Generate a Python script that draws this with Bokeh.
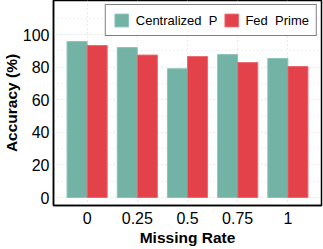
from bokeh.plotting import figure
from bokeh.models import FactorRange, Range1d, Legend, LegendItem, ColumnDataSource, FixedTicker, Title
from bokeh.transform import dodge
from bokeh.embed import file_html
from bokeh.resources import INLINE

rates = ["0", "0.25", "0.5", "0.75", "1"]
centralized = [95.7, 92.0, 79.0, 87.7, 85.3]
fed_prime = [93.3, 87.4, 86.5, 82.8, 80.4]
y_ticks = [0, 20, 40, 60, 80, 100]
y_minor = [10, 30, 50, 70, 90, 110]

GREEN = "#72b3a6"
RED = "#e4424a"
FONT = "Liberation Sans"

src = ColumnDataSource(dict(rate=rates, c=centralized, f=fed_prime))

p = figure(width=323, height=249, output_backend="svg", toolbar_location=None,
           x_range=FactorRange(factors=rates, range_padding=0.17, range_padding_units="absolute"),
           y_range=Range1d(-4.9, 120.9),
           min_border_left=48, min_border_right=2, min_border_top=0, min_border_bottom=44)

r1 = p.vbar(x=dodge("rate", -0.2, range=p.x_range), top="c", width=0.4, source=src,
            fill_color=GREEN, line_color="#8cc4b8", line_width=1)
r2 = p.vbar(x=dodge("rate", 0.2, range=p.x_range), top="f", width=0.4, source=src,
            fill_color=RED, line_color="#ea6a70", line_width=1)

p.outline_line_color = "black"
p.outline_line_width = 1.5
p.background_fill_color = "white"
p.border_fill_color = "white"

p.yaxis.ticker = FixedTicker(ticks=y_ticks, minor_ticks=y_minor)
for ax in (p.xaxis[0], p.yaxis[0]):
    ax.major_tick_line_color = None
    ax.minor_tick_line_color = None
    ax.major_tick_out = 0
    ax.major_tick_in = 0
    ax.minor_tick_out = 0
    ax.minor_tick_in = 0
    ax.axis_line_color = "black"
    ax.axis_line_width = 1.5
    ax.major_label_text_font = FONT
    ax.major_label_text_font_size = "16px"
    ax.major_label_text_color = "black"
    ax.axis_label_text_font = FONT
    ax.axis_label_text_font_size = "15.5px"
    ax.axis_label_text_font_style = "bold"
    ax.axis_label_text_color = "black"

p.xaxis.axis_label = "Missing Rate"
p.xaxis.major_label_standoff = 6
p.xaxis.axis_label_standoff = 2
p.yaxis.major_label_standoff = 4

ytitle = Title(text="Accuracy (%)", align="center", standoff=0, offset=0,
               text_font=FONT, text_font_size="15.5px", text_font_style="bold",
               text_color="black")
p.add_layout(ytitle, "left")

p.ygrid.grid_line_color = "#d4d4d4"
p.ygrid.grid_line_dash = "1 3"
p.ygrid.minor_grid_line_color = "#e0e0e0"
p.ygrid.minor_grid_line_dash = "1 3"
p.xgrid.grid_line_color = "#d4d4d4"
p.xgrid.grid_line_dash = "1 3"

legend = Legend(items=[LegendItem(label="Centralized\u00a0\u00a0P", renderers=[r1]),
                       LegendItem(label="Fed\u00a0\u00a0Prime", renderers=[r2])],
                orientation="horizontal", location="top_right")
legend.margin = 4
legend.padding = 7
legend.spacing = 5
legend.glyph_width = 17
legend.glyph_height = 16
legend.label_standoff = 6
legend.label_text_font = FONT
legend.label_text_font_size = "13px"
legend.label_text_color = "black"
legend.label_height = 16
legend.border_line_color = "black"
legend.border_line_width = 1.5
legend.background_fill_alpha = 1
p.add_layout(legend)

open("out.html", "w").write(file_html(p, INLINE))
